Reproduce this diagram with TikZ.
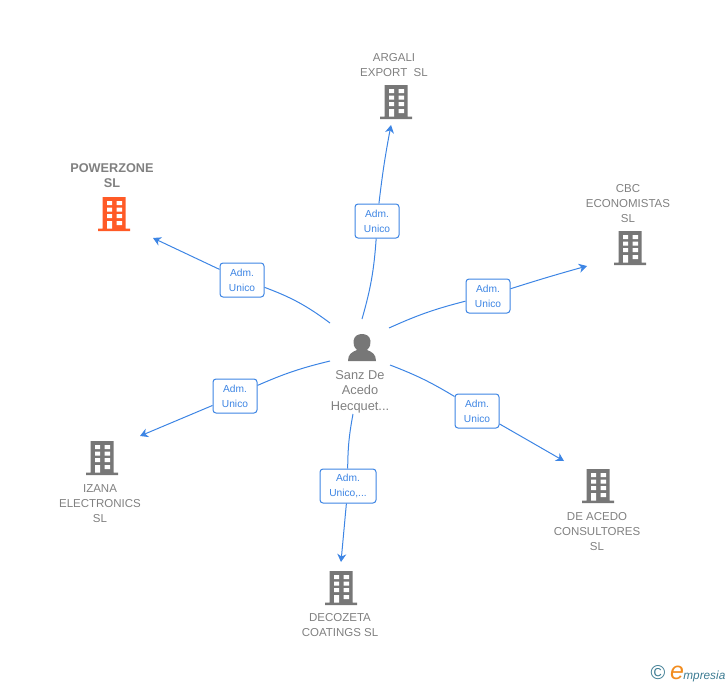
\documentclass[tikz,border=0pt]{standalone}
\usepackage{fontspec}
\setmainfont{Liberation Sans}
\usetikzlibrary{arrows.meta,positioning}
\definecolor{linkblue}{HTML}{3D85E4}
\definecolor{icongrey}{HTML}{777777}
\definecolor{textgrey}{HTML}{808080}
\definecolor{zoneorange}{HTML}{FF5A26}
\definecolor{logoteal}{HTML}{3D7C93}
\definecolor{logoorange}{HTML}{F28C1E}
\tikzset{
  building/.style={inner sep=0pt,minimum width=33pt,minimum height=34pt,path picture={
    \begin{scope}[shift={(path picture bounding box.center)}]
      \fill [#1] (-11.5,-17) rectangle (11.5,15) (-16,14.5) rectangle (16,17);
      \fill [white] (-7,-13) rectangle (-2,-9) (2.5,-13) rectangle (8,-9)
                    (-7,-6.5) rectangle (-2,-2.5) (2.5,-6.5) rectangle (8,-2.5)
                    (-7,0) rectangle (-2,4) (2.5,0) rectangle (8,4)
                    (-7,7) rectangle (-2,14.5) (2.5,7) rectangle (8,11);
    \end{scope}}},
  company/.style={text=textgrey,align=center,inner sep=0pt,font=\fontsize{11.5}{15}\selectfont},
  adm/.style={draw=linkblue,fill=white,rounded corners=3pt,line width=1pt,text=linkblue,align=center,
    inner sep=0pt,minimum height=34pt,font=\fontsize{10.2}{15}\selectfont},
  link/.style={draw=linkblue,line width=1pt},
  tip/.style={link,-{Stealth[length=8pt,width=9pt,inset=2.5pt]}}
}

\begin{document}
\begin{tikzpicture}[x=1pt,y=-1pt]
  \useasboundingbox (0,0) rectangle (728,685);

  % companies
  \node [building=zoneorange] (powerzone) at (114,214) {};
  \node [building=icongrey] (argali) at (396,102) {};
  \node [building=icongrey] (cbc) at (630,248) {};
  \node [building=icongrey] (deacedo) at (598,486) {};
  \node [building=icongrey] (decozeta) at (341,588) {};
  \node [building=icongrey] (izana) at (102,458) {};

  \node [company,above=9pt of powerzone,xshift=-2pt,font=\fontsize{12.7}{15}\selectfont\bfseries] (powerzonetext) {POWERZONE\\SL};
  \node [company,above=8pt of argali,xshift=-2pt] (argalitext) {ARGALI\\EXPORT\ \ SL};
  \node [company,above=8pt of cbc,xshift=-2pt] (cbctext) {CBC\\ECONOMISTAS\\SL};
  \node [company,below=9pt of deacedo,xshift=-1pt] (deacedotext) {DE ACEDO\\CONSULTORES\\SL};
  \node [company,below=8pt of decozeta,xshift=-1pt] (decozetatext) {DECOZETA\\COATINGS SL};
  \node [company,below=9pt of izana,xshift=-2pt] (izanatext) {IZANA\\ELECTRONICS\\SL};

  % person
  \node [company,font=\fontsize{12.8}{15.5}\selectfont] (sanz) at (360,391.5) {Sanz De\\Acedo\\Hecquet...};
  \fill [icongrey] (348,361) .. controls (348,354) and (352,352) .. (357,350)
    .. controls (354,347) and (353,344) .. (353.5,341) .. controls (354,336) and (358,334) .. (362,334)
    .. controls (366,334) and (370,336) .. (370.5,341) .. controls (371,344) and (370,347) .. (367,350)
    .. controls (372,352) and (376,354) .. (376,361) -- cycle;

  % links
  \coordinate (startargali) at (362,319);
  \coordinate (endargali) at (391,125);
  \coordinate (startcbc) at (389,328);
  \coordinate (endcbc) at (587,266);
  \coordinate (startdeacedo) at (390,365);
  \coordinate (enddeacedo) at (564,461);
  \coordinate (startdecozeta) at (353,414);
  \coordinate (enddecozeta) at (341,562);
  \coordinate (startizana) at (330,361);
  \coordinate (endizana) at (140,436);
  \coordinate (startpowerzone) at (330,323);
  \coordinate (endpowerzone) at (153,238);

  \node [adm,minimum width=44pt] (admargali) at (377,221) {Adm.\\Unico};
  \node [adm,minimum width=44pt] (admcbc) at (488,296) {Adm.\\Unico};
  \node [adm,minimum width=44pt] (admdeacedo) at (477,411) {Adm.\\Unico};
  \node [adm,minimum width=56pt] (admdecozeta) at (348,486) {Adm.\\Unico,...};
  \node [adm,minimum width=44pt] (admizana) at (235,396) {Adm.\\Unico};
  \node [adm,minimum width=44pt] (admpowerzone) at (242,280) {Adm.\\Unico};

  \draw [link] (startargali) to [bend right=6] (admargali);
  \draw [tip] (admargali) to [bend left=2] (endargali);
  \draw [link] (startcbc) to [bend left=5] (admcbc);
  \draw [tip] (admcbc) to [bend left=1] (endcbc);
  \draw [link] (startdeacedo) to [bend left=5] (admdeacedo);
  \draw [tip] (admdeacedo) -- (enddeacedo);
  \draw [link] (startdecozeta) to [bend right=5] (admdecozeta);
  \draw [tip] (admdecozeta) -- (enddecozeta);
  \draw [link] (startizana) to [bend right=5] (admizana);
  \draw [tip] (admizana) -- (endizana);
  \draw [link] (startpowerzone) to [bend left=-8] (admpowerzone);
  \draw [tip] (admpowerzone) -- (endpowerzone);

  % logo
  \node [text=logoteal,inner sep=0pt,font=\fontsize{20}{20}\selectfont] (logoc) at (658,673) {©};
  \node [text=logoorange,inner sep=0pt,font=\fontsize{25}{25}\selectfont\itshape] (logoe) at (677,673) {e};
  \node [text=logoteal,inner sep=0pt,font=\fontsize{11.8}{12}\selectfont\itshape,right=-1pt of logoe,yshift=-3pt] (logotext) {mpresia};
\end{tikzpicture}
\end{document}
